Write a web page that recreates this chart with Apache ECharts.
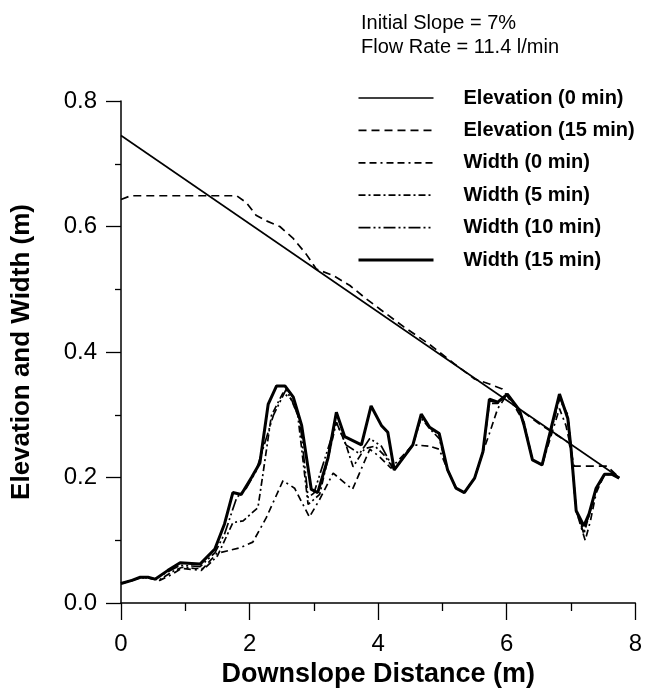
<!DOCTYPE html>
<html>
<head>
<meta charset="utf-8">
<script src="https://cdn.jsdelivr.net/npm/echarts@6/dist/echarts.min.js"></script>
<style>html,body{margin:0;padding:0;background:#fff;}#c{width:645px;height:693px;}</style>
</head>
<body>
<div id="c"></div>
<script>
var seriesNames = ['Elevation (0 min)', 'Elevation (15 min)', 'Width (0 min)', 'Width (5 min)', 'Width (10 min)', 'Width (15 min)'];
var xTicks = [0, 2, 4, 6, 8];
var yTicks = [0.0, 0.2, 0.4, 0.6, 0.8];

var elev0X = [0, 7.75];
var elev0Y = [0.745, 0.200];

var elev15X = [0, 0.15, 1.8, 1.95, 2.1, 2.26, 2.47, 2.67, 2.88, 3.04, 3.3, 3.56, 3.81, 4.02, 4.4, 4.8, 5.2, 5.5, 5.73, 5.93, 6.1, 6.5, 6.97, 7.05, 7.56, 7.75];
var elev15Y = [0.643, 0.649, 0.649, 0.638, 0.618, 0.609, 0.600, 0.582, 0.556, 0.532, 0.522, 0.506, 0.485, 0.469, 0.440, 0.412, 0.380, 0.357, 0.349, 0.341, 0.316, 0.286, 0.255, 0.218, 0.218, 0.200];

var w0X = [0, 0.17, 0.3, 0.42, 0.6, 0.8, 0.94, 1.25, 1.49, 1.85, 2.05, 2.26, 2.52, 2.7, 2.93, 3.09, 3.3, 3.6, 3.87, 4.0, 4.2, 4.54, 4.8, 4.95, 5.08, 5.21, 5.34, 5.5, 5.63, 5.73, 5.86, 6.01, 6.2, 6.27, 6.4, 6.55, 6.82, 6.92, 7.0, 7.08, 7.22, 7.3, 7.39, 7.52, 7.64, 7.75];
var w0Y = [0.031, 0.036, 0.040, 0.040, 0.036, 0.046, 0.055, 0.052, 0.079, 0.088, 0.097, 0.136, 0.195, 0.183, 0.137, 0.165, 0.207, 0.181, 0.245, 0.235, 0.215, 0.252, 0.250, 0.245, 0.212, 0.183, 0.176, 0.199, 0.241, 0.270, 0.310, 0.333, 0.300, 0.288, 0.228, 0.220, 0.310, 0.283, 0.246, 0.147, 0.100, 0.130, 0.175, 0.205, 0.205, 0.199];

var w5X = [0, 0.17, 0.3, 0.42, 0.6, 0.8, 0.95, 1.15, 1.3, 1.5, 1.74, 1.9, 2.13, 2.2, 2.34, 2.52, 2.65, 2.75, 2.91, 3.09, 3.35, 3.5, 3.61, 3.79, 3.95, 4.1, 4.25, 4.54, 4.67, 4.8, 4.95, 5.08, 5.21, 5.34, 5.5, 5.63, 5.73, 5.86, 6.01, 6.2, 6.27, 6.4, 6.55, 6.82, 6.95, 7.0, 7.08, 7.2, 7.28, 7.39, 7.52, 7.64, 7.75];
var w5Y = [0.031, 0.036, 0.041, 0.040, 0.037, 0.050, 0.057, 0.055, 0.055, 0.075, 0.128, 0.131, 0.152, 0.200, 0.299, 0.335, 0.325, 0.299, 0.157, 0.173, 0.288, 0.252, 0.217, 0.246, 0.250, 0.235, 0.212, 0.252, 0.295, 0.278, 0.262, 0.212, 0.183, 0.176, 0.199, 0.241, 0.318, 0.318, 0.333, 0.305, 0.283, 0.228, 0.220, 0.325, 0.300, 0.246, 0.147, 0.110, 0.140, 0.180, 0.205, 0.205, 0.199];

var w10X = [0, 0.17, 0.3, 0.42, 0.53, 0.73, 0.92, 1.1, 1.23, 1.46, 1.61, 1.8, 1.95, 2.1, 2.37, 2.57, 2.78, 2.91, 3.0, 3.35, 3.5, 3.71, 3.87, 4.05, 4.25, 4.54, 4.67, 4.8, 4.95, 5.08, 5.21, 5.34, 5.5, 5.63, 5.73, 5.86, 6.01, 6.2, 6.27, 6.4, 6.55, 6.82, 6.95, 7.0, 7.08, 7.2, 7.28, 7.39, 7.52, 7.64, 7.75];
var w10Y = [0.031, 0.036, 0.041, 0.041, 0.038, 0.050, 0.060, 0.059, 0.058, 0.080, 0.110, 0.168, 0.183, 0.210, 0.299, 0.341, 0.294, 0.168, 0.175, 0.288, 0.252, 0.238, 0.262, 0.250, 0.212, 0.252, 0.298, 0.280, 0.268, 0.212, 0.183, 0.176, 0.199, 0.241, 0.322, 0.320, 0.333, 0.307, 0.283, 0.228, 0.220, 0.330, 0.297, 0.246, 0.147, 0.115, 0.140, 0.183, 0.205, 0.205, 0.199];

var w15X = [0, 0.17, 0.3, 0.42, 0.53, 0.73, 0.92, 1.1, 1.23, 1.46, 1.61, 1.74, 1.87, 2.03, 2.16, 2.29, 2.42, 2.55, 2.68, 2.81, 2.96, 3.06, 3.22, 3.35, 3.48, 3.74, 3.89, 4.05, 4.15, 4.25, 4.54, 4.67, 4.8, 4.95, 5.08, 5.21, 5.34, 5.5, 5.63, 5.73, 5.86, 6.01, 6.2, 6.27, 6.4, 6.55, 6.82, 6.95, 7.0, 7.08, 7.2, 7.28, 7.39, 7.52, 7.64, 7.75];
var w15Y = [0.031, 0.036, 0.041, 0.041, 0.038, 0.052, 0.064, 0.063, 0.062, 0.086, 0.126, 0.176, 0.173, 0.200, 0.223, 0.317, 0.346, 0.346, 0.328, 0.283, 0.181, 0.176, 0.231, 0.304, 0.265, 0.252, 0.314, 0.283, 0.272, 0.212, 0.252, 0.301, 0.280, 0.270, 0.212, 0.183, 0.176, 0.199, 0.241, 0.325, 0.320, 0.333, 0.307, 0.283, 0.228, 0.220, 0.333, 0.294, 0.246, 0.147, 0.123, 0.142, 0.183, 0.205, 0.205, 0.199];

function pairs(xs, ys) { return xs.map(function (x, i) { return [x, ys[i]]; }); }

var styles = [
  { width: 1.6, type: 'solid' },
  { width: 1.7, type: [8, 5] },
  { width: 1.7, type: [7, 4, 7, 4, 2, 4] },
  { width: 1.7, type: [7, 3, 2, 3] },
  { width: 1.7, type: [12, 3, 2, 3, 2, 3] },
  { width: 3, type: 'solid' }
];
var dataSets = [pairs(elev0X, elev0Y), pairs(elev15X, elev15Y), pairs(w0X, w0Y), pairs(w5X, w5Y), pairs(w10X, w10Y), pairs(w15X, w15Y)];

var font = 'Liberation Sans, Arial, Helvetica, sans-serif';
var chart = echarts.init(document.getElementById('c'), null, { renderer: 'canvas' });
chart.setOption({
  backgroundColor: '#fff',
  animation: false,
  grid: { left: 121, right: 9, top: 101, bottom: 83, containLabel: false },
  graphic: [
    { type: 'text', left: 361, top: 13, style: { text: 'Initial Slope = 7%', fontSize: 20, fontFamily: font, fill: '#000' } },
    { type: 'text', left: 361, top: 37, style: { text: 'Flow Rate = 11.4 l/min', fontSize: 20, fontFamily: font, fill: '#000' } }
  ],
  legend: {
    orient: 'vertical', left: 352, top: 83, itemWidth: 75, itemHeight: 20, itemGap: 12.4,
    padding: 5,
    data: seriesNames.map(function (n, i) {
      return { name: n, lineStyle: { width: styles[i].width, type: styles[i].type, color: '#000' } };
    }),
    itemStyle: { opacity: 0 },
    textStyle: { fontSize: 20, lineHeight: 20, fontWeight: 'bold', fontFamily: font, color: '#000', padding: [0, 0, 0, 25] }
  },
  xAxis: {
    type: 'value', min: 0, max: 8, interval: 2,
    name: 'Downslope Distance (m)', nameLocation: 'middle', nameGap: 58,
    nameTextStyle: { fontSize: 27, fontWeight: 'bold', fontFamily: font, color: '#000' },
    axisLine: { show: true, lineStyle: { color: '#000', width: 1.5 } },
    axisTick: { show: true, inside: false, length: 17, lineStyle: { color: '#000', width: 1.3 } },
    minorTick: { show: true, splitNumber: 2, length: 8, lineStyle: { color: '#000', width: 1.3 } },
    splitLine: { show: false },
    axisLabel: { fontSize: 24, fontFamily: font, color: '#000', margin: 29, formatter: function (v) { return xTicks.indexOf(v) >= 0 ? String(v) : ''; } }
  },
  yAxis: {
    type: 'value', min: 0, max: 0.8, interval: 0.2,
    name: 'Elevation and Width (m)', nameLocation: 'middle', nameGap: 86,
    nameTextStyle: { fontSize: 26, fontWeight: 'bold', fontFamily: font, color: '#000' },
    axisLine: { show: true, lineStyle: { color: '#000', width: 1.5 } },
    axisTick: { show: true, inside: false, length: 15, lineStyle: { color: '#000', width: 1.3 } },
    minorTick: { show: true, splitNumber: 2, length: 6, lineStyle: { color: '#000', width: 1.3 } },
    splitLine: { show: false },
    axisLabel: { fontSize: 24, fontFamily: font, color: '#000', margin: 24, formatter: function (v) { return v.toFixed(1); } }
  },
  series: seriesNames.map(function (n, i) {
    return {
      name: n, type: 'line', data: dataSets[i], symbol: 'none', showSymbol: false,
      lineStyle: { color: '#000', width: styles[i].width, type: styles[i].type },
      itemStyle: { color: '#000' }, z: i === 5 ? 5 : 3
    };
  })
});
</script>
</body>
</html>
